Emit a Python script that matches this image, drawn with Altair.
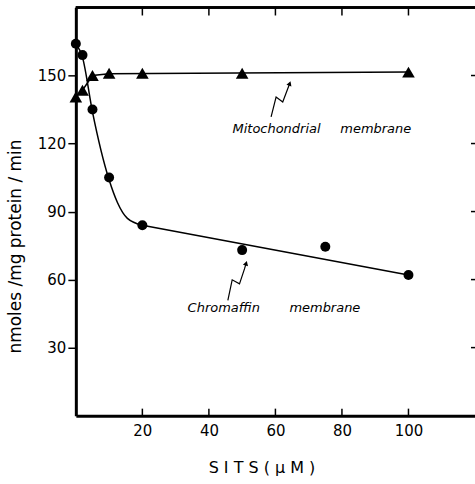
import altair as alt
import pandas as pd

# ---------------- data ----------------
chrom_x = [0, 2, 5, 10, 20, 50, 75, 100]
chrom_y = [164, 159, 135, 105, 84, 73, 74.5, 62]

mito_x = [0, 2, 5, 10, 20, 50, 100]
mito_y = [140.5, 143.5, 150, 151, 151, 151, 151.5]

# hand-drawn fitted curves
chrom_curve_x = [0, 2, 5, 10, 12.5, 15.5, 20]
chrom_curve_y = [164, 158, 134, 104, 94, 87, 84]
chrom_line_x = [20, 100]
chrom_line_y = [84, 62]
mito_fit_x = [0, 2, 5, 10, 100]
mito_fit_y = [140.5, 143.5, 150, 150.8, 151.6]

# zig-zag annotation arrows
mito_arrow_x = [58.7, 60.2, 62.2, 63.7, 64.3]
mito_arrow_y = [131.8, 140.5, 138.3, 144.2, 146.5]
chrom_arrow_x = [45.7, 47.0, 49.2, 50.7, 51.2]
chrom_arrow_y = [50.8, 59.9, 58.1, 64.7, 67.2]
head_x = [64.3, 51.2]
head_y = [146.5, 67.2]
head_angle = [20, 17]

label_text = ["Mitochondrial", "membrane", "Chromaffin", "membrane"]
label_x = [47.1, 79.5, 33.6, 64.2]
label_y = [126.6, 126.6, 47.3, 47.3]

x_ticks = [20, 40, 60, 80, 100]
y_ticks = [30, 60, 90, 120, 150]

FONT = "DejaVu Sans"
W, H = 400, 409

pts_c = pd.DataFrame({"x": chrom_x, "y": chrom_y})
pts_m = pd.DataFrame({"x": mito_x, "y": mito_y})
fit_c1 = pd.DataFrame({"x": chrom_curve_x, "y": chrom_curve_y})
fit_c2 = pd.DataFrame({"x": chrom_line_x, "y": chrom_line_y})
fit_m = pd.DataFrame({"x": mito_fit_x, "y": mito_fit_y})
arrows = pd.concat([
    pd.DataFrame({"x": mito_arrow_x, "y": mito_arrow_y, "g": "m", "o": range(len(mito_arrow_x))}),
    pd.DataFrame({"x": chrom_arrow_x, "y": chrom_arrow_y, "g": "c", "o": range(len(chrom_arrow_x))}),
])
heads = pd.DataFrame({"x": head_x, "y": head_y, "a": head_angle})
labels = pd.DataFrame({"t": label_text, "x": label_x, "y": label_y})
xt = pd.DataFrame({"x": x_ticks})
yt = pd.DataFrame({"y": y_ticks})

xs = alt.Scale(domain=[0, 120], nice=False, zero=False)
ys = alt.Scale(domain=[0, 180], nice=False, zero=False)

ax_common = dict(labelFont=FONT, titleFont=FONT, labelColor="black", titleColor="black",
                 domainColor="black", tickColor="black", grid=False)

x_bottom = alt.Axis(orient="bottom", values=x_ticks, ticks=False,
                    domainWidth=3, labelFontSize=15, labelPadding=8,
                    title="S I T S  ( μ M )", titleFontSize=16, titleFontWeight="normal",
                    titleX=186, titleY=52, titleBaseline="middle", titleAlign="center",
                    **ax_common)
y_left = alt.Axis(orient="left", values=y_ticks, tickSize=8, tickWidth=1.5, domainWidth=3,
                  labelFontSize=15, labelPadding=2,
                  title="nmoles /mg  protein / min", titleFontSize=17, titleFontWeight="normal",
                  titleX=-60, titleY=239, titleBaseline="middle", titleAlign="center", titleAngle=270,
                  **ax_common)

X = lambda: alt.X("x:Q", scale=xs, axis=x_bottom)
Y = lambda: alt.Y("y:Q", scale=ys, axis=y_left)

fit_c1_l = alt.Chart(fit_c1).mark_line(color="black", strokeWidth=1.5, interpolate="monotone").encode(
    x=X(), y=Y())
fit_c2_l = alt.Chart(fit_c2).mark_line(color="black", strokeWidth=1.5).encode(x=X(), y=Y())
fit_m_l = alt.Chart(fit_m).mark_line(color="black", strokeWidth=1.5).encode(x=X(), y=Y())

# top frame and inward ticks
top_line = alt.Chart(xt).mark_rule(color="black", strokeWidth=2).encode(
    x=alt.value(0), x2=alt.value(W), y=alt.value(0))
top_ticks = alt.Chart(xt).mark_rule(color="black", strokeWidth=1.5).encode(
    x=X(), y=alt.value(0), y2=alt.value(8))
bottom_ticks = alt.Chart(xt).mark_rule(color="black", strokeWidth=1.5).encode(
    x=X(), y=alt.value(H), y2=alt.value(H - 7))
right_ticks = alt.Chart(yt).mark_rule(color="black", strokeWidth=1.5).encode(
    y=Y(), x=alt.value(W - 4), x2=alt.value(W))

circ = alt.Chart(pts_c).mark_point(shape="circle", filled=True, color="black", size=100, opacity=1).encode(
    x=X(), y=Y())
tri = alt.Chart(pts_m).mark_point(shape="triangle-up", filled=True, color="black", size=160, opacity=1).encode(
    x=X(), y=Y())
arr = alt.Chart(arrows).mark_line(color="black", strokeWidth=1.2).encode(
    x=X(), y=Y(), detail="g:N", order="o:Q")
hd = alt.Chart(heads).mark_point(shape="triangle-up", filled=True, color="black", size=28, opacity=1).encode(
    x=X(), y=Y(), angle=alt.Angle("a:Q", scale=None))
txt = alt.Chart(labels).mark_text(font=FONT, fontSize=13, fontStyle="italic", align="left",
                                  baseline="middle", color="black").encode(
    x=X(), y=Y(), text="t:N")

chart = alt.layer(fit_c1_l, fit_c2_l, fit_m_l, top_line, top_ticks, bottom_ticks,
                  right_ticks, arr, hd, circ, tri, txt).properties(
    width=W, height=H,
    autosize=alt.AutoSizeParams(type="none"),
    padding={"left": 76, "top": 7, "right": 0, "bottom": 68},
    background="white",
).configure_view(strokeWidth=0)

chart.save("out.html", embed_options={"renderer": "svg", "actions": False})
